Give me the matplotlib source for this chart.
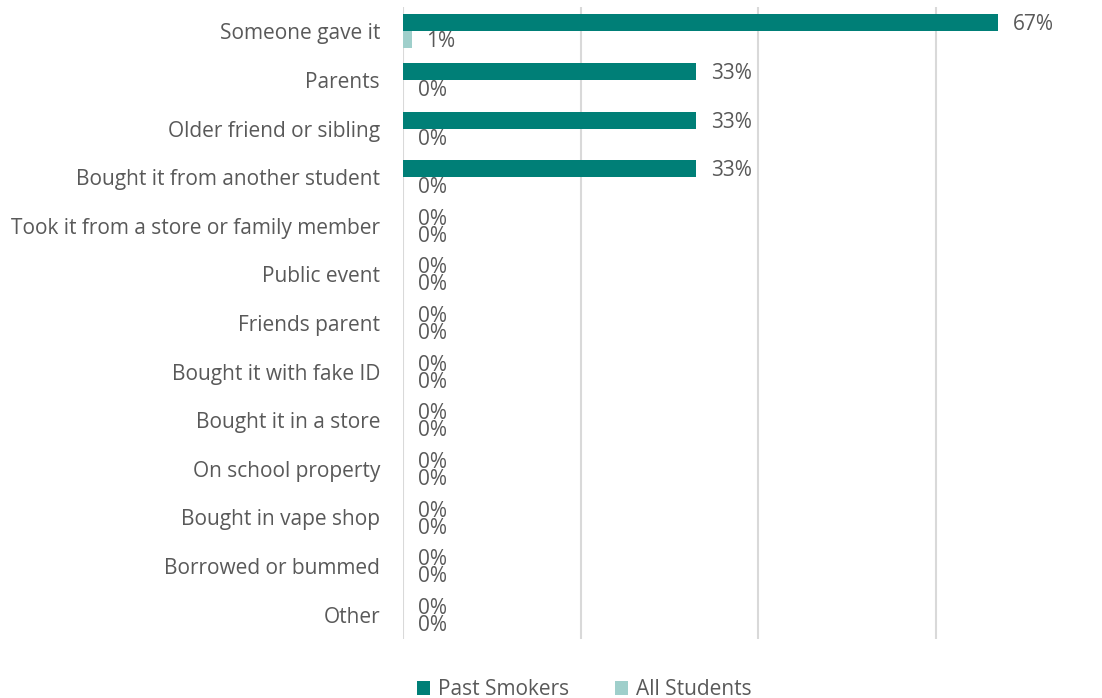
import matplotlib.pyplot as plt
import numpy as np

# categories, top to bottom
categories = [
    "Someone gave it",
    "Parents",
    "Older friend or sibling",
    "Bought it from another student",
    "Took it from a store or family member",
    "Public event",
    "Friends parent",
    "Bought it with fake ID",
    "Bought it in a store",
    "On school property",
    "Bought in vape shop",
    "Borrowed or bummed",
    "Other",
]
past_smokers = [67, 33, 33, 33, 0, 0, 0, 0, 0, 0, 0, 0, 0]
all_students = [1, 0, 0, 0, 0, 0, 0, 0, 0, 0, 0, 0, 0]

DARK = "#007F77"
LIGHT = "#9FCFCB"
TEXT = "#595959"
GRID = "#D9D9D9"

plt.rcParams['font.family'] = ['Open Sans', 'DejaVu Sans']

fig = plt.figure(figsize=(11.02, 6.98), dpi=100)
ax = fig.add_axes([403 / 1102, 1 - 639 / 698, 1 - 403 / 1102, 632 / 698])

y = np.arange(len(categories))
h = 0.35
bars_p = ax.barh(y - h / 2, past_smokers, height=h, color=DARK, label="Past Smokers", zorder=3)
bars_a = ax.barh(y + h / 2, all_students, height=h, color=LIGHT, label="All Students", zorder=3)

# value labels just past the end of each bar
for bars, vals in ((bars_p, past_smokers), (bars_a, all_students)):
    for b, v in zip(bars, vals):
        ax.annotate(f"{v}%", (b.get_width(), b.get_y() + b.get_height() / 2),
                    xytext=(10.5, -1.5), textcoords="offset points",
                    ha="left", va="center", fontsize=15, color=TEXT)

ax.set_xlim(0, 78.7)
ax.set_ylim(len(categories) - 0.5, -0.5)
ax.set_xticks([0, 20, 40, 60])
ax.xaxis.grid(True, color=GRID, linewidth=1.5, zorder=0)
ax.tick_params(axis="x", bottom=False, labelbottom=False)
ax.tick_params(axis="y", left=False, pad=13, labelsize=15, labelcolor=TEXT)
ax.set_yticks(y)
ax.set_yticklabels(categories)
for s in ax.spines.values():
    s.set_visible(False)

fig.legend(loc="lower center", bbox_to_anchor=(0.53, -0.03), ncol=2, frameon=False,
           fontsize=15, labelcolor=TEXT, handlelength=0.65, handleheight=0.65,
           handletextpad=0.35, columnspacing=2.2)

fig.savefig("out.png", dpi=100)
